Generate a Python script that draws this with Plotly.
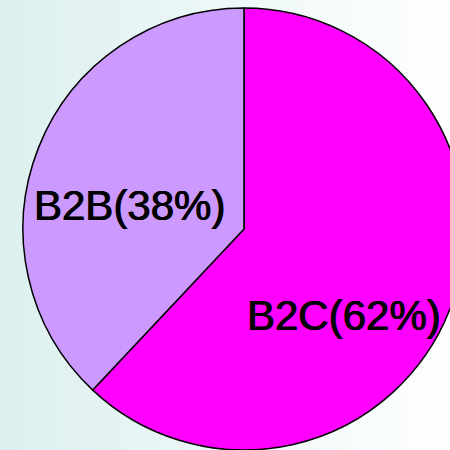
import plotly.graph_objects as go

labels = ["B2C", "B2B"]
values = [62, 38]
colors = ["#ff00ff", "#cc99ff"]
bg_left = "#dcf0ef"
bg_right = "#ffffff"

W, H = 466, 450

fig = go.Figure()

# gradient background
fig.add_trace(go.Scatter(
    x=[0, 1, 1, 0, 0], y=[0, 0, 1, 1, 0],
    mode="lines", line=dict(width=0),
    fill="toself",
    fillgradient=dict(type="horizontal",
                      colorscale=[[0, bg_left], [0.97, bg_right], [1, bg_right]]),
    hoverinfo="skip", showlegend=False,
))

fig.add_trace(go.Pie(
    labels=labels, values=values,
    sort=False, direction="clockwise", rotation=0,
    marker=dict(colors=colors, line=dict(color="black", width=1.5)),
    textinfo="none",
    domain=dict(x=[22 / W, 1], y=[0, 442 / H]),
    showlegend=False, hoverinfo="skip",
))

total = sum(values)
label_pos = {"B2C": (343.5 / W, (H - 315) / H), "B2B": (129.5 / W, (H - 206) / H)}
for lab, val in zip(labels, values):
    px, py = label_pos[lab]
    fig.add_annotation(
        x=px, y=py, xref="paper", yref="paper",
        text=f"{lab}({round(100 * val / total)}%)",
        showarrow=False, xanchor="center", yanchor="middle",
        font=dict(family="Liberation Sans, Arial", size=42, color="black",
                  shadow="0.5px 0px 0px black, -0.5px 0px 0px black"),
    )

fig.update_layout(
    width=W, height=H,
    margin=dict(l=0, r=0, t=0, b=0),
    paper_bgcolor="white", plot_bgcolor="rgba(0,0,0,0)",
    xaxis=dict(range=[0, 1], visible=False, fixedrange=True),
    yaxis=dict(range=[0, 1], visible=False, fixedrange=True),
)

fig.write_html("out.html", config={"displayModeBar": False},
               post_script="document.body.style.margin='0';document.body.style.overflow='hidden';document.documentElement.style.overflow='hidden';")
